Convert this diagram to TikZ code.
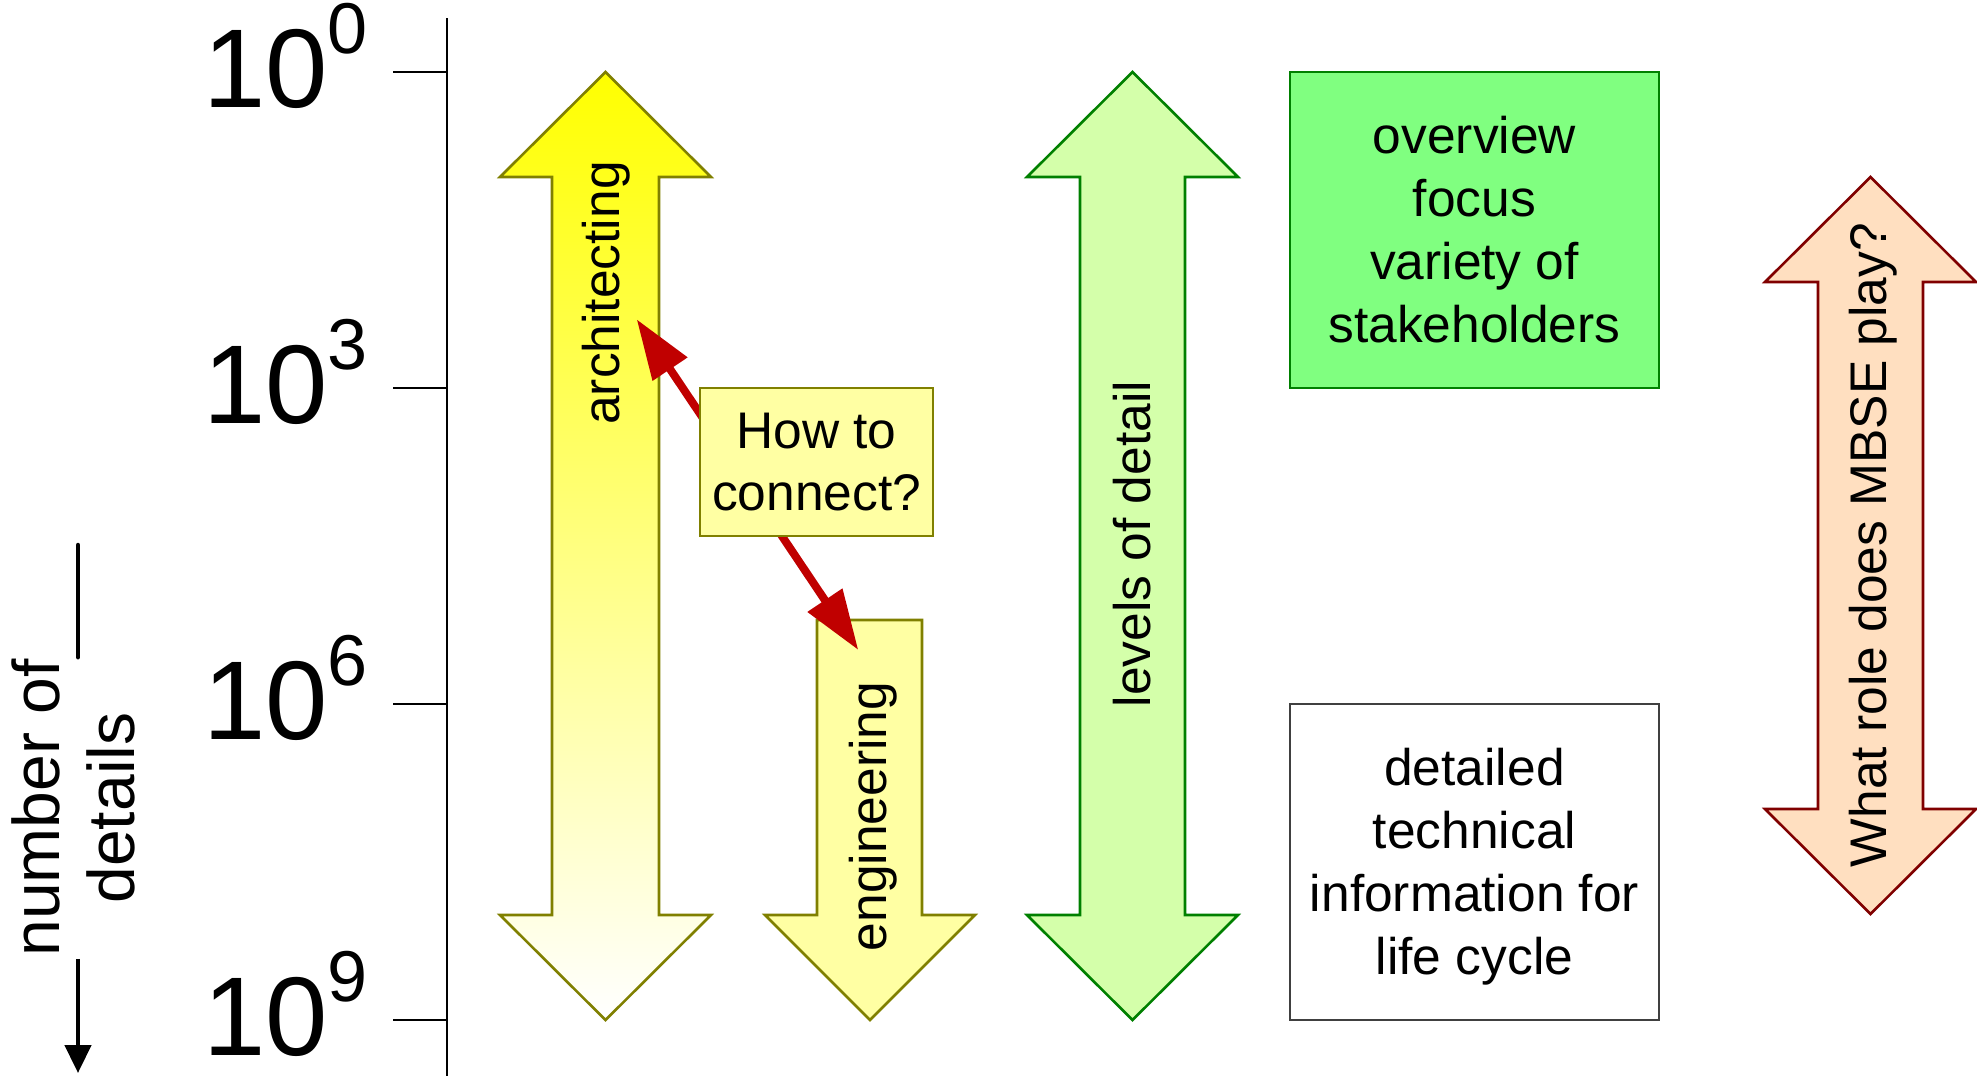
\documentclass[tikz,border=0pt]{standalone}
\usepackage{fontspec}
\setmainfont{Liberation Sans}
\usetikzlibrary{arrows.meta}
\definecolor{olivebd}{HTML}{808000}
\definecolor{engfill}{HTML}{FFFFA3}
\definecolor{greenbd}{HTML}{008000}
\definecolor{lvlfill}{HTML}{D4FFAA}
\definecolor{boxgreen}{HTML}{80FF80}
\definecolor{peach}{HTML}{FFDFC0}
\definecolor{darkredbd}{HTML}{800000}
\definecolor{redarrow}{HTML}{C00000}
\definecolor{graybd}{HTML}{404040}
\tikzset{
  bigfont/.style={font=\fontsize{112}{112}\selectfont},
  txt/.style={font=\fontsize{51.5}{63}\selectfont, inner sep=0pt},
  vtxt/.style={txt, rotate=90},
  axisline/.style={line width=2.7pt, black},
  fatarrow/.style={line width=2.6pt, line join=miter},
  infobox/.style={txt, align=center, line width=2.6pt, minimum width=369pt, minimum height=316pt},
  powlabel/.style={anchor=base west, inner sep=0pt, bigfont},
}
\newcommand{\supnum}[1]{\raisebox{54pt}{\fontsize{72}{72}\selectfont #1}}
\begin{document}
\begin{tikzpicture}[x=1pt,y=-1pt]
\fill[white] (0,0) rectangle (1977,1076);
\useasboundingbox (0,0) rectangle (1977,1076);

% axis
\coordinate (axtop) at (447,18);
\coordinate (axbot) at (447,1076);
\draw[axisline] (axtop) -- (axbot);
\foreach \yy/\nm in {72/a,388/b,704/c,1020/d}{
  \coordinate (tick\nm) at (447,\yy);
  \draw[axisline] (tick\nm) -- ++(-54,0);
}
\node[powlabel] (p0) at (202.8,107) {10\supnum{0}};
\node[powlabel] (p3) at (202.8,423) {10\supnum{3}};
\node[powlabel] (p6) at (202.8,739) {10\supnum{6}};
\node[powlabel] (p9) at (202.8,1055) {10\supnum{9}};

% number of details
\coordinate (ndtop) at (78,545);
\coordinate (ndbot) at (78,1073);
\node[rotate=90, inner sep=2pt, font=\fontsize{66}{75}\selectfont, align=center] (ndlbl) at (73.5,808) {number of\\details};
\draw[line width=4.5pt, line cap=round] (ndtop) -- (ndtop |- ndlbl.east);
\draw[line width=4.5pt, -{Triangle[length=28pt,width=26pt]}] (ndtop |- ndlbl.west) -- (ndbot);

% architecting arrow
\draw[fatarrow, draw=olivebd, top color=yellow, bottom color=white]
 (605.5,72) -- (711,177) -- (659,177) -- (659,915) -- (711,915) -- (605.5,1020)
 -- (500,915) -- (552,915) -- (552,177) -- (500,177) -- cycle;
\node[vtxt] (archlbl) at (606,293) {architecting};

% engineering arrow
\draw[fatarrow, draw=olivebd, fill=engfill]
 (817,620) -- (922,620) -- (922,915) -- (975,915) -- (870,1020) -- (765,915) -- (817,915) -- cycle;
\node[vtxt] (englbl) at (873,816.5) {engineering};

% levels of detail arrow
\draw[fatarrow, draw=greenbd, fill=lvlfill]
 (1132.5,72) -- (1238,177) -- (1185,177) -- (1185,915) -- (1238,915) -- (1132.5,1020)
 -- (1027,915) -- (1080,915) -- (1080,177) -- (1027,177) -- cycle;
\node[vtxt] (lvllbl) at (1132.5,544) {levels of detail};

% MBSE arrow
\draw[fatarrow, draw=darkredbd, fill=peach]
 (1870.5,177) -- (1976,282) -- (1923,282) -- (1923,809) -- (1976,809) -- (1870.5,914)
 -- (1765,809) -- (1818,809) -- (1818,282) -- (1765,282) -- cycle;
\node[vtxt] (mbselbl) at (1873,545) {What role does MBSE play?};

% boxes
\node[infobox, draw=greenbd, fill=boxgreen] (ovbox) at (1474.5,230) {overview\\focus\\variety of\\stakeholders};
\node[infobox, draw=graybd, fill=white] (detbox) at (1474.5,862) {detailed\\technical\\information for\\life c\smash{y}cle};

% connection arrow
\coordinate (archtip) at (636.7,319.3);
\coordinate (engtip) at (858.3,650);
\draw[redarrow, line width=8pt, {Triangle[length=60pt,width=40pt]}-{Triangle[length=60pt,width=40pt]}] (archtip) -- (engtip);
\node[txt, align=center, draw=olivebd, fill=engfill, line width=2.6pt, minimum width=233pt, minimum height=148pt, font=\fontsize{51.5}{62}\selectfont] (howbox) at (816.5,462) {How to\\connect?};
\end{tikzpicture}
\end{document}
